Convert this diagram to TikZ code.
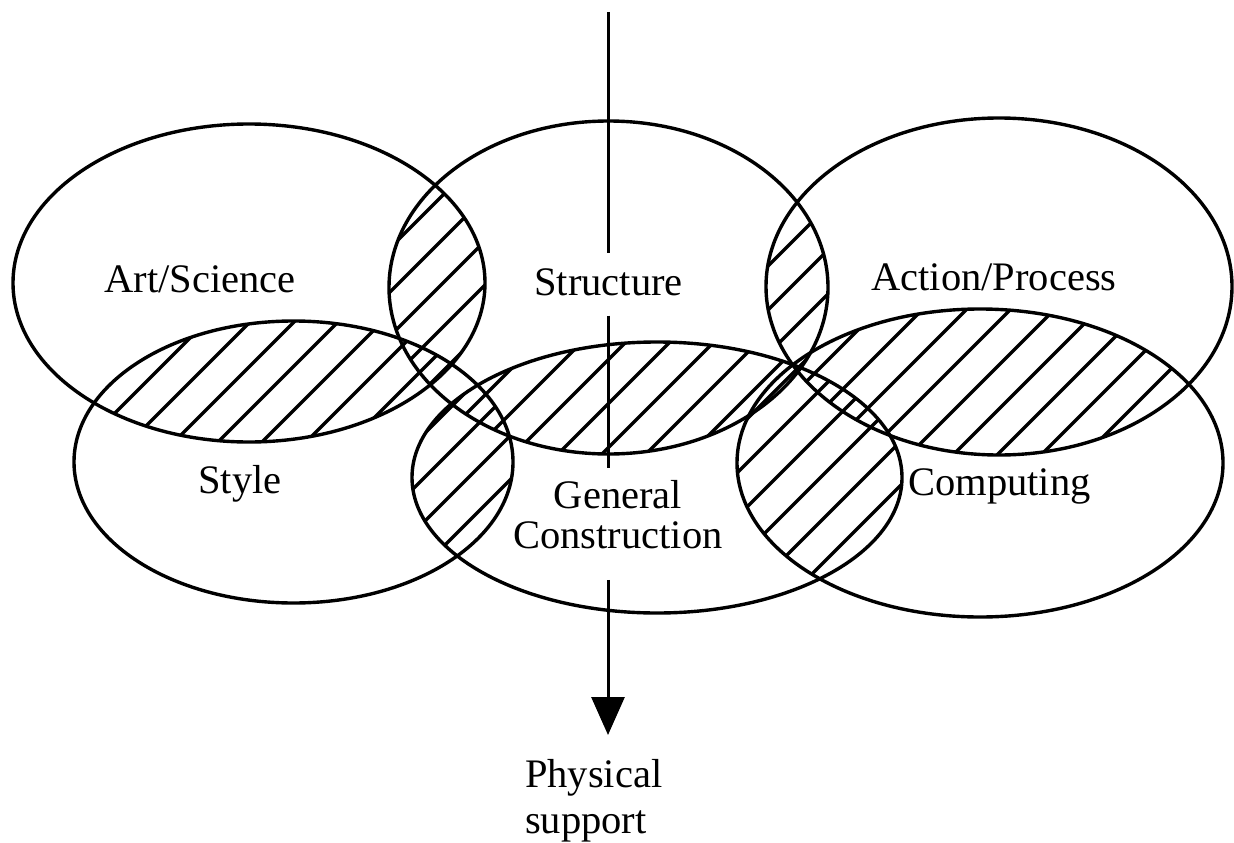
\documentclass[tikz,border=0pt]{standalone}
\usepackage{fontspec}
\setmainfont{Liberation Serif}
\usetikzlibrary{arrows.meta,calc}
\def\eArt{(249,283) ellipse [x radius=236, y radius=159]}
\def\eStr{(608.5,287.5) ellipse [x radius=219.5, y radius=166.5]}
\def\eAct{(999,286.5) ellipse [x radius=233, y radius=168.5]}
\def\eSty{(293.5,462) ellipse [x radius=219.5, y radius=141]}
\def\eGen{(657,477.5) ellipse [x radius=245, y radius=135.5]}
\def\eCom{(980,463) ellipse [x radius=243, y radius=154]}
\newcommand\hatchpair[3]{%
  \begin{scope}
    \clip #1;
    \clip #2;
    \foreach \c in {0,44,...,2250}
      \draw[hatchline] ({\c+#3-900},900) -- ({\c+#3},0);
  \end{scope}}
\begin{document}
\begin{tikzpicture}[x=1pt,y=-1pt,
  outline/.style={line width=3.4pt},
  hatchline/.style={line width=3.4pt},
  lbl/.style={font=\fontsize{40.5}{40}\selectfont, inner sep=0pt},
  conn/.style={line width=3pt}]
\useasboundingbox[fill=white] (0,0) rectangle (1234,843);

% hatched overlaps
\hatchpair{\eArt}{\eSty}{0}
\hatchpair{\eArt}{\eStr}{22}
\hatchpair{\eStr}{\eGen}{0}
\hatchpair{\eSty}{\eGen}{22}
\hatchpair{\eStr}{\eAct}{22}
\hatchpair{\eAct}{\eCom}{0}
\hatchpair{\eGen}{\eCom}{22}

% ellipses
\draw[outline] \eArt;
\draw[outline] \eStr;
\draw[outline] \eAct;
\draw[outline] \eSty;
\draw[outline] \eGen;
\draw[outline] \eCom;

% labels
\node[lbl, anchor=base] (art) at (200,292) {Art/Science};
\node[lbl, anchor=base] (st)  at (608.5,295) {Structure};
\node[lbl, anchor=base] (act) at (994,290) {Action/Process};
\node[lbl, anchor=base] (sty) at (240,493) {Style};
\node[lbl, anchor=north, align=center] (gc) at (618,480) {General\\Construction};
\node[lbl, anchor=base] (com) at (999.5,495) {Computing};
\node[lbl, anchor=north west, align=left, font=\fontsize{40.5}{46}\selectfont] (phys) at (525,759) {Physical\\support};

% vertical arrow
\coordinate (top) at (608,12);
\coordinate (tip) at (608,735);
\draw[conn] (top) -- ($(top |- st.north)+(0,-15)$);
\draw[conn] ($(top |- st.south)+(0,20)$) -- ($(top |- gc.north)+(0,-12)$);
\draw[conn, -{Triangle[length=38pt,width=33pt]}] ($(top |- gc.south)+(0,31)$) -- (tip);
\end{tikzpicture}
\end{document}
